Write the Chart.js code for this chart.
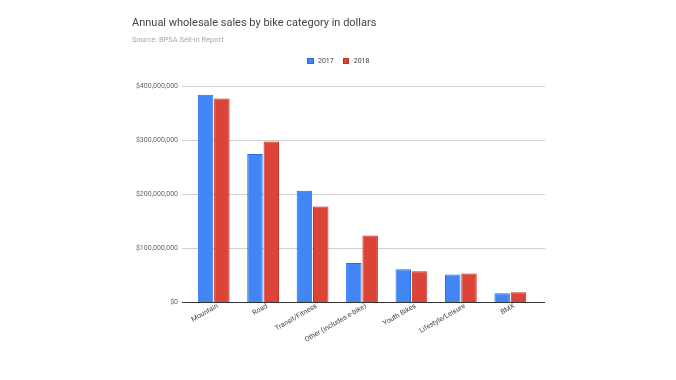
<!DOCTYPE html>
<html><head><meta charset="utf-8">
<script src="https://cdn.jsdelivr.net/npm/chart.js@4/dist/chart.umd.min.js"></script>
<style>
html,body{margin:0;padding:0;background:#fff;}
#wrap{position:relative;width:676px;height:380px;font-family:Roboto,"Noto Sans",sans-serif;}
#c{position:absolute;left:0;top:0;}
#title{position:absolute;left:132px;top:16px;font-size:11px;color:#444;white-space:nowrap;}
#sub{position:absolute;left:132px;top:35px;font-size:7.5px;color:#a8a8a8;white-space:nowrap;}
#legend{position:absolute;left:307px;top:57px;font-size:7px;color:#444;white-space:nowrap;display:flex;}
.li{display:flex;align-items:center;margin-right:9px;}
.sw{width:6.5px;height:6.5px;margin-right:4.5px;box-sizing:border-box;}
</style></head>
<body><div id="wrap">
<canvas id="c" width="676" height="380"></canvas>
<div id="title">Annual wholesale sales by bike category in dollars</div>
<div id="sub">Source: BPSA Sell-in Report</div>
<div id="legend"></div>
</div>
<script>
const categories = ["Mountain","Road","Transit/Fitness","Other (includes e-bike)","Youth Bikes","Lifestyle/Leisure","BMX"];
const seriesNames = ["2017","2018"];
const sales2017 = [384000000,274000000,206000000,72000000,60500000,51000000,16000000];
const sales2018 = [377000000,297000000,177000000,123000000,57000000,53000000,18000000];
const yTicks = [0,100000000,200000000,300000000,400000000];
const fills = ["#4285F4","#DB4437"];
const borders = ["#1c6ef0","#cf2a1c"];

const lg = document.getElementById('legend');
seriesNames.forEach((n,i)=>{
  const d=document.createElement('div');d.className='li';
  const s=document.createElement('div');s.className='sw';s.style.background=fills[i];s.style.border='1px solid '+borders[i];
  const t=document.createElement('span');t.textContent=n;
  d.appendChild(s);d.appendChild(t);lg.appendChild(d);
});

const gridPlugin = {
  id:'gridExt',
  beforeDatasetsDraw(chart){
    const ctx=chart.ctx, y=chart.scales.y;
    ctx.save();
    y.ticks.forEach(t=>{
      const py=Math.round(y.getPixelForValue(t.value))+0.5;
      ctx.beginPath();
      ctx.strokeStyle = t.value===0 ? '#333' : '#d0d0d0';
      ctx.lineWidth = 1;
      ctx.moveTo(182,py);ctx.lineTo(545,py);ctx.stroke();
    });
    ctx.restore();
  }
};

new Chart(document.getElementById('c'),{
  type:'bar',
  data:{labels:categories,datasets:[
    {label:seriesNames[0],data:sales2017,backgroundColor:fills[0],borderColor:borders[0],borderWidth:1},
    {label:seriesNames[1],data:sales2018,backgroundColor:fills[1],borderColor:borders[1],borderWidth:1}
  ]},
  options:{
    responsive:false,animation:false,
    categoryPercentage:0.66,barPercentage:0.95,
    layout:{padding:{top:86,right:141,left:0,bottom:0}},
    plugins:{legend:{display:false},tooltip:{enabled:false},title:{display:false}},
    scales:{
      x:{
        grid:{display:false,drawTicks:false},border:{display:false},
        ticks:{autoSkip:false,maxRotation:30,minRotation:30,padding:0,labelOffset:4,color:'#444',font:{family:'Roboto',size:7}},
        afterFit(s){s.height=78;}
      },
      y:{
        min:0,max:400000000,
        grid:{display:false,drawTicks:false},border:{display:false},
        afterBuildTicks(s){s.ticks=yTicks.map(v=>({value:v}));},
        ticks:{padding:11,color:'#666',font:{family:'Roboto',size:7},
          callback:v=>'$'+Number(v).toLocaleString('en-US')},
        afterFit(s){s.width=189;}
      }
    }
  },
  plugins:[gridPlugin]
});
</script>
</body></html>
